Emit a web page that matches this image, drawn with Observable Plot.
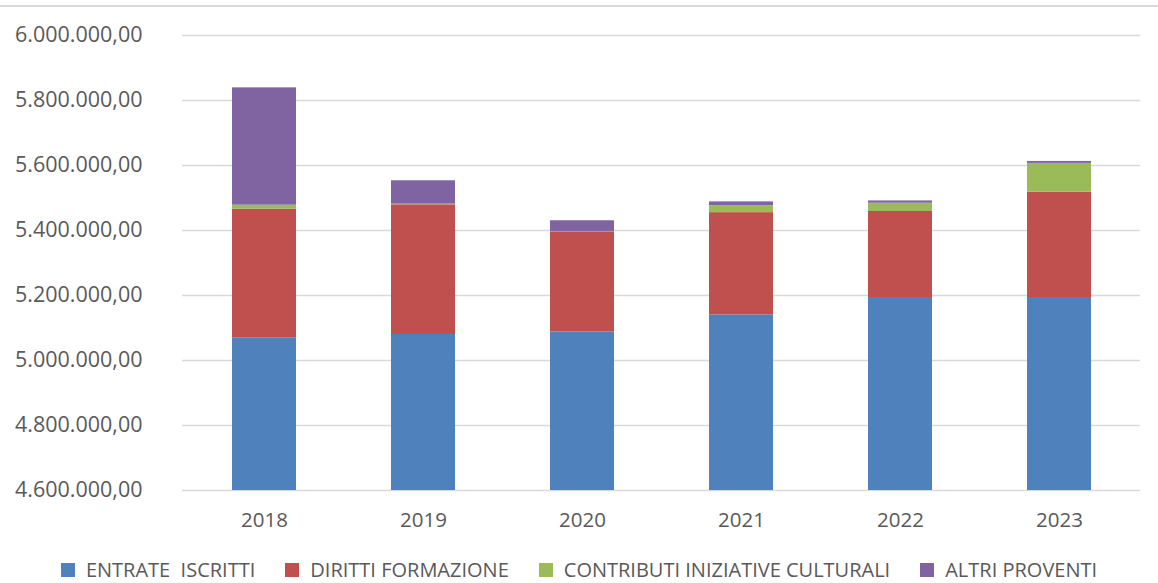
<!DOCTYPE html>
<html>
<head>
<meta charset="utf-8">
<script src="https://cdn.jsdelivr.net/npm/d3@7"></script>
<script src="https://cdn.jsdelivr.net/npm/@observablehq/plot@0.6"></script>
<style>
  html, body { margin: 0; padding: 0; background: #fff; }
  #wrap { position: relative; width: 1158px; height: 583px; overflow: hidden; font-family: "Open Sans", sans-serif; }
  #topline { position: absolute; left: 0; right: 0; top: 5px; height: 0; border-top: 2px solid #d9d9d9; }
  #legend { position: absolute; left: 0; width: 1158px; top: 557px; height: 26px; display: flex; justify-content: center; align-items: center; font-size: 20px; line-height: 26px; color: #595959; }
  .item { display: flex; align-items: center; margin: 0 15px; white-space: pre; }
  .sw { width: 14px; height: 14px; margin-right: 11px; }
</style>
</head>
<body>
<div id="wrap"><div id="topline"></div><div id="chart"></div><div id="legend"></div></div>
<script>
const years = ["2018", "2019", "2020", "2021", "2022", "2023"];
const seriesNames = ["ENTRATE  ISCRITTI", "DIRITTI FORMAZIONE", "CONTRIBUTI INIZIATIVE CULTURALI", "ALTRI PROVENTI"];
const entrateIscritti = [5070000, 5080000, 5088000, 5140000, 5191000, 5191000];
const dirittiFormazione = [395500, 399000, 308000, 315000, 267500, 327000];
const contributiCulturali = [12400, 2000, 1000, 21500, 25500, 88500];
const altriProventi = [361000, 72000, 33000, 11500, 7000, 6000];
const colors = ["#4F81BD", "#C0504D", "#9BBB59", "#8064A2"];
const yTicks = [4600000, 4800000, 5000000, 5200000, 5400000, 5600000, 5800000, 6000000];

const seriesValues = [entrateIscritti, dirittiFormazione, contributiCulturali, altriProventi];
const data = [];
seriesNames.forEach((s, si) => years.forEach((y, yi) => data.push({year: y, serie: s, value: seriesValues[si][yi], order: si})));

const it = d3.formatLocale({decimal: ",", thousands: ".", grouping: [3], currency: ["", "€"]});
const fmt = it.format(",.2f");

const chart = Plot.plot({
  width: 1158,
  height: 550,
  marginTop: 35,
  marginBottom: 60,
  marginLeft: 182,
  marginRight: 18,
  style: {fontFamily: "Open Sans, sans-serif", fontSize: "20px", color: "#595959", background: "transparent"},
  x: {domain: years, paddingInner: 0.6, paddingOuter: 0.3, label: null, tickSize: 0, tickPadding: 22},
  y: {domain: [4600000, 6000000], ticks: yTicks, tickFormat: fmt, label: null, tickSize: 0, tickPadding: 40},
  color: {domain: seriesNames, range: colors},
  marks: [
    Plot.gridY(yTicks, {stroke: "#d9d9d9", strokeOpacity: 1, strokeWidth: 1.5}),
    Plot.barY(data, Plot.stackY({x: "year", y: "value", fill: "serie", order: "order", clip: true})),
    Plot.axisX({tickSize: 0, tickPadding: 22, fontSize: 20.5}),
    Plot.axisY({ticks: yTicks, tickFormat: fmt, tickSize: 0, tickPadding: 40, fontSize: 21.5})
  ]
});
document.getElementById("chart").appendChild(chart);

const legend = document.getElementById("legend");
seriesNames.forEach((s, i) => {
  const item = document.createElement("div");
  item.className = "item";
  const sw = document.createElement("span");
  sw.className = "sw";
  sw.style.background = colors[i];
  const t = document.createElement("span");
  t.textContent = s;
  item.appendChild(sw);
  item.appendChild(t);
  legend.appendChild(item);
});
</script>
</body>
</html>
